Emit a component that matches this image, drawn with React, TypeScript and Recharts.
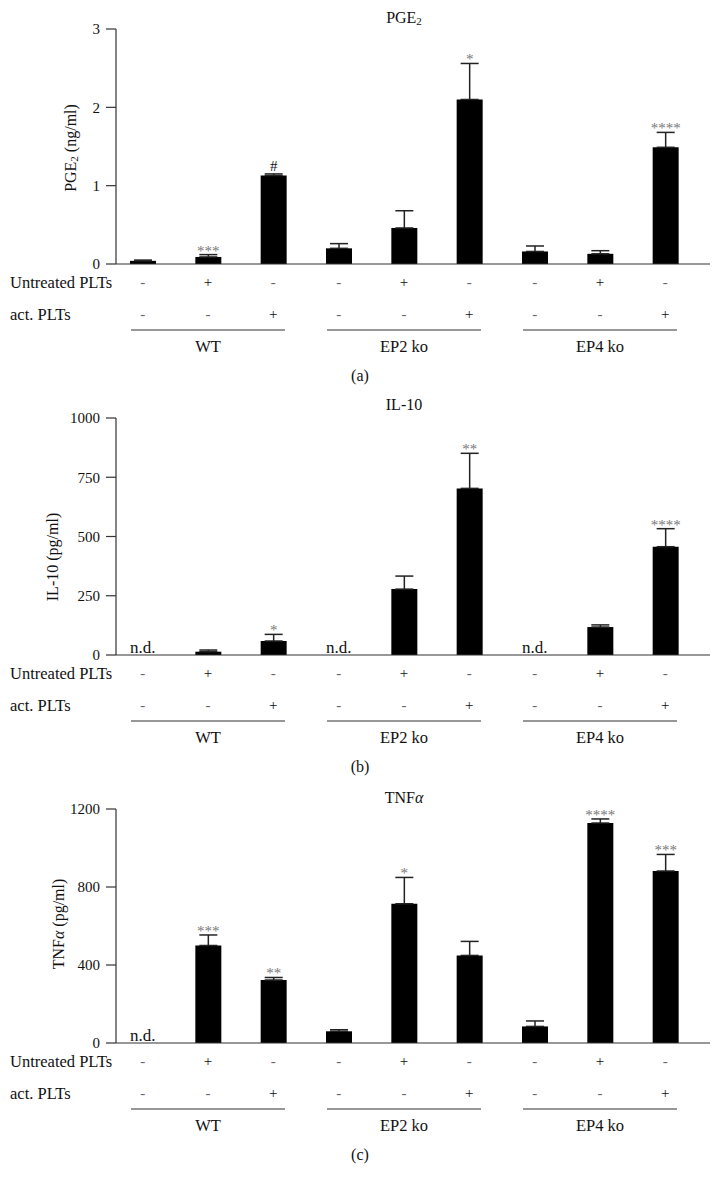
import React from 'react';
import { BarChart, Bar, XAxis, YAxis, ErrorBar, LabelList } from 'recharts';

const FONT = '"Liberation Serif", "Times New Roman", serif';

const CATEGORIES = ['WT-1', 'WT-2', 'WT-3', 'EP2-1', 'EP2-2', 'EP2-3', 'EP4-1', 'EP4-2', 'EP4-3'];
const GROUPS = ['WT', 'EP2 ko', 'EP4 ko'];
const UNTREATED = ['-', '+', '-', '-', '+', '-', '-', '+', '-'];
const ACTIVATED = ['-', '-', '+', '-', '-', '+', '-', '-', '+'];

const PGE2_VALUES = [0.04, 0.09, 1.13, 0.2, 0.46, 2.1, 0.16, 0.13, 1.49];
const PGE2_ERRORS = [0.01, 0.03, 0.02, 0.06, 0.22, 0.46, 0.07, 0.04, 0.19];
const PGE2_SIG = ['', '***', '#', '', '', '*', '', '', '****'];
const PGE2_TICKS = [0, 1, 2, 3];

const IL10_VALUES = [0, 14, 59, 0, 278, 703, 0, 118, 457];
const IL10_ERRORS = [0, 7, 28, 0, 55, 148, 0, 9, 76];
const IL10_SIG = ['n.d.', '', '*', 'n.d.', '', '**', 'n.d.', '', '****'];
const IL10_TICKS = [0, 250, 500, 750, 1000];

const TNF_VALUES = [0, 500, 323, 60, 714, 449, 85, 1128, 882];
const TNF_ERRORS = [0, 54, 13, 8, 135, 72, 28, 21, 85];
const TNF_SIG = ['n.d.', '***', '**', '', '*', '', '', '****', '***'];
const TNF_TICKS = [0, 400, 800, 1200];

const AXIS = '#333';
const serif = { fontFamily: FONT };

const GroupTick = (props: any) => {
    const { x, y, payload, sig } = props;
    const i = CATEGORIES.indexOf(payload?.value);
    return (
        <g>
            {i === 0 && (
                <>
                    <text x={10} y={y + 16} dominantBaseline="central" fontSize={16.5} fill="#111" style={serif}>Untreated PLTs</text>
                    <text x={10} y={y + 48} dominantBaseline="central" fontSize={16.5} fill="#111" style={serif}>act. PLTs</text>
                </>
            )}
            {sig && sig[i] === 'n.d.' && (
                <text x={x} y={y - 4} textAnchor="middle" fontSize={17} fill="#111" style={serif}>n.d.</text>
            )}
            <text x={x} y={y + 16} textAnchor="middle" dominantBaseline="central" fontSize={15}
                fill={UNTREATED[i] === '+' ? '#111' : '#666'} style={serif}>{UNTREATED[i]}</text>
            <text x={x} y={y + 48} textAnchor="middle" dominantBaseline="central" fontSize={15}
                fill={ACTIVATED[i] === '+' ? '#111' : '#666'} style={serif}>{ACTIVATED[i]}</text>
            {i % 3 === 1 && (
                <>
                    <line x1={x - 77} x2={x + 77} y1={y + 64} y2={y + 64} stroke={AXIS} strokeWidth={1.2} />
                    <text x={x} y={y + 80} textAnchor="middle" dominantBaseline="central" fontSize={16.5} fill="#111" style={serif}>
                        {GROUPS[Math.floor(i / 3)]}
                    </text>
                </>
            )}
        </g>
    );
};

// stars sit just above the whisker; whisker top is derived from the bar's own px/unit ratio
const makeSigLabel = (values: number[], errors: number[], sig: string[]) => (props: any) => {
    const vb = props.viewBox ?? props;
    const x = props.x ?? vb.x;
    const y = props.y ?? vb.y;
    const width = props.width ?? vb.width;
    const height = props.height ?? vb.height;
    const i = CATEGORIES.indexOf(props.value);
    const s = sig[i];
    if (!s || s === 'n.d.' || !values[i]) return null;
    const cx = x + width / 2;
    const top = y - (errors[i] * height) / values[i];
    if (s === '#') {
        return <text x={cx} y={top - 3} textAnchor="middle" fontSize={15} fill="#111" style={serif}>#</text>;
    }
    return <text x={cx} y={top + 1} textAnchor="middle" fontSize={15} fill="#777" style={serif}>{s}</text>;
};

interface PanelProps {
    top: number;
    height: number;
    marginTop: number;
    values: number[];
    errors: number[];
    sig: string[];
    ticks: number[];
    title: React.ReactNode;
    titleY: number;
    yLabel: React.ReactNode;
    yLabelX: number;
    yLabelY: number;
    caption: string;
}

const Panel = ({ top, height, marginTop, values, errors, sig, ticks, title, titleY, yLabel, yLabelX, yLabelY, caption }: PanelProps) => {
    const data = CATEGORIES.map((name, i) => ({
        name,
        value: values[i],
        err: [0, errors[i]],
    }));
    return (
        <div style={{ position: 'absolute', left: 0, top, width: 721, height }}>
            <BarChart width={721} height={height} data={data} margin={{ top: marginTop, right: 11, bottom: 0, left: 0 }}
                style={serif}>
                <XAxis dataKey="name" height={125} interval={0} tickSize={0} tickLine={false}
                    axisLine={{ stroke: AXIS, strokeWidth: 1.2 }} padding={{ left: -6, right: 12 }}
                    tick={<GroupTick sig={sig} />} />
                <YAxis width={116} domain={[ticks[0], ticks[ticks.length - 1]]} ticks={ticks} interval={0}
                    tickSize={10} tickMargin={6} axisLine={{ stroke: AXIS, strokeWidth: 1.2 }}
                    tickLine={{ stroke: AXIS, strokeWidth: 1.2 }}
                    tick={{ fill: '#111', fontSize: 15, style: serif }} />
                <Bar dataKey="value" fill="#000" barSize={26} isAnimationActive={false}>
                    <ErrorBar dataKey="err" direction="y" width={9} stroke="#222" strokeWidth={1.5} />
                    <LabelList dataKey="name" content={makeSigLabel(values, errors, sig)} />
                </Bar>
            </BarChart>
            <svg width={721} height={height} style={{ position: 'absolute', left: 0, top: 0, pointerEvents: 'none', fontFamily: FONT }}
                fill="#111">
                <text x={404} y={titleY} textAnchor="middle" dominantBaseline="central" fontSize={16}>{title}</text>
                <text transform={`translate(${yLabelX},${yLabelY}) rotate(-90)`} textAnchor="middle"
                    dominantBaseline="central" fontSize={16}>{yLabel}</text>
                <text x={360} y={height - 14} textAnchor="middle"
                    dominantBaseline="central" fontSize={16}>{caption}</text>
            </svg>
        </div>
    );
};

const App = () => {
    return (
        <div style={{ position: 'absolute', left: 0, top: 0, width: 721, height: 1188, background: '#fff' }}>
            <Panel top={0} height={389} marginTop={29}
                values={PGE2_VALUES} errors={PGE2_ERRORS} sig={PGE2_SIG} ticks={PGE2_TICKS}
                title={<>PGE<tspan fontSize={11} dy={4}>2</tspan></>} titleY={17}
                yLabel={<>PGE<tspan fontSize={11} dy={4}>2</tspan><tspan dy={-4}> (ng/ml)</tspan></>}
                yLabelX={70} yLabelY={148} caption="(a)" />
            <Panel top={390} height={390} marginTop={28}
                values={IL10_VALUES} errors={IL10_ERRORS} sig={IL10_SIG} ticks={IL10_TICKS}
                title="IL-10" titleY={14}
                yLabel="IL-10 (pg/ml)" yLabelX={52} yLabelY={167} caption="(b)" />
            <Panel top={780} height={388} marginTop={29}
                values={TNF_VALUES} errors={TNF_ERRORS} sig={TNF_SIG} ticks={TNF_TICKS}
                title={<>TNF<tspan fontStyle="italic">α</tspan></>} titleY={17}
                yLabel={<>TNF<tspan fontStyle="italic">α</tspan> (pg/ml)</>}
                yLabelX={58} yLabelY={144} caption="(c)" />
        </div>
    );
};

export default App;
